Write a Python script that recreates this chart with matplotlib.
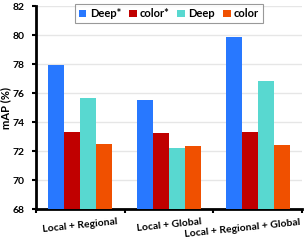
import matplotlib

matplotlib.use("Agg")
import matplotlib.pyplot as plt
import matplotlib.transforms as mtransforms
import numpy as np

groups = ["Local + Regional", "Local + Global", "Local + Regional + Global"]
series = ["Deep*", "color*", "Deep", "color"]
deep_star = [77.95, 75.55, 79.9]
color_star = [73.35, 73.25, 73.35]
deep = [75.7, 72.2, 76.85]
color = [72.5, 72.35, 72.45]
colors = ["#2878FF", "#C00000", "#58D8D0", "#F05000"]

plt.rcParams["font.family"] = ["Lato", "DejaVu Sans"]
plt.rcParams["font.weight"] = "bold"

fig, ax = plt.subplots(figsize=(3.05, 2.42), dpi=100)
fig.subplots_adjust(left=0.118, right=0.99, top=0.975, bottom=0.135)

x = np.arange(len(groups))
w = 0.18
for i, (name, vals) in enumerate(zip(series, [deep_star, color_star, deep, color])):
    ax.bar(x + (i - 1.5) * w, vals, w, color=colors[i], label=name, zorder=3)

ax.set_ylim(68, 82)
ax.set_yticks(range(68, 83, 2))
ax.set_xlim(-0.5, 2.5)
ax.set_xticks([-0.5, 0.5, 1.5, 2.5])
ax.set_xticklabels([])
ax.set_xticks(x, minor=True)
ax.set_xticklabels(groups, minor=True, rotation=6, fontsize=7.5, fontweight="bold")
ax.tick_params(axis="x", which="minor", length=0, pad=6)
ax.tick_params(axis="x", which="major", length=3, width=1.5, direction="out")
ax.tick_params(axis="y", length=3, width=1.5, labelsize=7.5, pad=5)
for lab in ax.get_yticklabels():
    lab.set_fontweight("bold")
# last label is pushed left so it stays inside the figure
last = ax.get_xticklabels(minor=True)[-1]
last.set_transform(last.get_transform() + mtransforms.ScaledTranslation(-0.15, 0, fig.dpi_scale_trans))
ax.set_ylabel("mAP (%)", fontsize=8, fontweight="bold", labelpad=1)
ax.grid(axis="y", color="#e6e6e6", linewidth=1, zorder=0)
for s in ["top", "right"]:
    ax.spines[s].set_visible(False)
for s in ["left", "bottom"]:
    ax.spines[s].set_linewidth(2)

leg = ax.legend(loc="upper center", bbox_to_anchor=(0.5, 1.035), ncol=4, fontsize=8,
                frameon=True, fancybox=False, edgecolor="#808080", handlelength=0.7,
                handleheight=0.7, handletextpad=0.3, columnspacing=0.7, borderpad=0.35)
leg.get_frame().set_linewidth(0.8)
for t in leg.get_texts():
    t.set_fontweight("bold")

fig.savefig("out.png", dpi=100)
